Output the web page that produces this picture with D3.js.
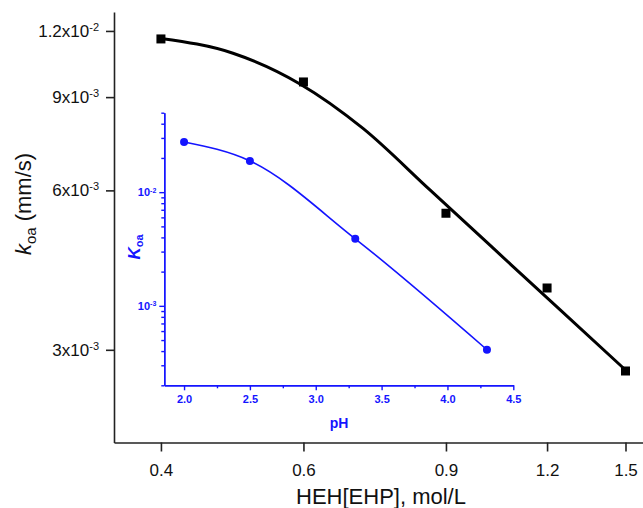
<!DOCTYPE html>
<html lang="en">
<head>
<meta charset="UTF-8">
<title>koa vs HEH[EHP]</title>
<script src="https://d3js.org/d3.v7.min.js"></script>
<style>
    body {
        margin: 0;
        background: #fff;
        font-family: "Liberation Sans", Arial, sans-serif;
    }
    .main-axis path, .main-axis line {
        stroke: #222;
        stroke-width: 1.6px;
    }
    .main-axis text {
        fill: #111;
        font-size: 17px;
    }
    .inset-axis path, .inset-axis line {
        stroke: #1414ff;
        stroke-width: 1.4px;
    }
    .inset-axis text {
        fill: #1414ff;
        font-size: 11px;
        font-weight: bold;
    }
</style>
</head>
<body>
<div id="chart"></div>
<script>
    // main plot: measured points
    const mainX = [0.4, 0.6, 0.9, 1.2, 1.5];
    const mainY = [0.01159, 0.009613, 0.005432, 0.003925, 0.002736];

    // fitted curve
    const fitX = [0.4, 0.491, 0.5941, 0.7108, 0.8599, 1.02, 1.2447, 1.5];
    const fitY = [0.011615, 0.010891, 0.00953, 0.007854, 0.006011, 0.004727, 0.003572, 0.002748];

    const mainXTicks = [0.4, 0.6, 0.9, 1.2, 1.5];
    const mainYTicks = [0.003, 0.006, 0.009, 0.012];
    const mainYTickLabels = [["3x10", "-3"], ["6x10", "-3"], ["9x10", "-3"], ["1.2x10", "-2"]];

    // inset: Koa vs pH
    const insetPH = [2.0, 2.5, 3.3, 4.3];
    const insetK = [0.0276, 0.01882, 0.00389, 0.000411];
    const insetXTicks = [2.0, 2.5, 3.0, 3.5, 4.0, 4.5];
    const insetXMinor = [2.25, 2.75, 3.25, 3.75, 4.25];
    const insetYTicks = [0.001, 0.01];
    const insetYTickLabels = [["10", "-3"], ["10", "-2"]];
    const insetYMinor = [0.0002, 0.0003, 0.0004, 0.0005, 0.0006, 0.0007, 0.0008, 0.0009,
                         0.002, 0.003, 0.004, 0.005, 0.006, 0.007, 0.008, 0.009,
                         0.02, 0.03, 0.04, 0.05];

    const W = 643, H = 508;
    const blue = "#1414ff";

    const svg = d3.select("#chart").append("svg")
        .attr("width", W)
        .attr("height", H);

    // ---- main plot ----
    const x = d3.scaleLog().domain([0.35, 1.65]).range([114, 659]);
    const y = d3.scaleLog().domain([0.002005, 0.01303]).range([442.5, 12]);

    svg.append("g")
        .attr("class", "main-axis")
        .attr("transform", "translate(0,442.5)")
        .call(d3.axisBottom(x).tickValues(mainXTicks).tickSize(9).tickSizeOuter(0).tickPadding(12)
            .tickFormat(d3.format(".1f")));

    const gy = svg.append("g")
        .attr("class", "main-axis")
        .attr("transform", "translate(114,0)")
        .call(d3.axisLeft(y).tickValues(mainYTicks).tickSize(8).tickSizeOuter(0).tickPadding(7));

    gy.selectAll(".tick text").each(function(d, i) {
        const t = d3.select(this).text(null);
        t.append("tspan").text(mainYTickLabels[i][0]);
        t.append("tspan").attr("dy", "-0.55em").style("font-size", "11px").text(mainYTickLabels[i][1]);
    });

    // axis titles
    svg.append("text")
        .attr("x", 381)
        .attr("y", 504)
        .attr("text-anchor", "middle")
        .style("font-size", "22px")
        .style("fill", "#111")
        .text("HEH[EHP], mol/L");

    const yt = svg.append("text")
        .attr("transform", "translate(31,204) rotate(-90)")
        .attr("text-anchor", "middle")
        .style("font-size", "22px")
        .style("fill", "#111");
    yt.append("tspan").style("font-style", "italic").text("k");
    yt.append("tspan").attr("dy", "5").style("font-size", "15px").text("oa");
    yt.append("tspan").attr("dy", "-5").text(" (mm/s)");

    // fitted curve
    const fitLine = d3.line()
        .x(d => x(d[0]))
        .y(d => y(d[1]))
        .curve(d3.curveMonotoneX);

    svg.append("path")
        .datum(d3.zip(fitX, fitY))
        .attr("d", fitLine)
        .attr("fill", "none")
        .attr("stroke", "#000")
        .attr("stroke-width", 3);

    svg.selectAll("rect.pt")
        .data(d3.zip(mainX, mainY))
        .enter()
        .append("rect")
        .attr("class", "pt")
        .attr("x", d => x(d[0]) - 4.5)
        .attr("y", d => y(d[1]) - 4.5)
        .attr("width", 9)
        .attr("height", 9)
        .attr("fill", "#000");

    // ---- inset ----
    const ix = d3.scaleLinear().domain([1.85, 4.5]).range([164.3, 513.3]);
    const iy = d3.scaleLog().domain([0.0002, 0.05]).range([385.3, 112.7]);

    // minor ticks first so the major axis lines sit on top
    svg.append("g")
        .attr("class", "inset-axis")
        .attr("transform", "translate(0,385.3)")
        .call(d3.axisBottom(ix).tickValues(insetXMinor).tickSize(3).tickSizeOuter(0).tickFormat(""));

    svg.append("g")
        .attr("class", "inset-axis")
        .attr("transform", "translate(164.3,0)")
        .call(d3.axisLeft(iy).tickValues(insetYMinor).tickSize(3).tickSizeOuter(0).tickFormat(""));

    svg.append("g")
        .attr("class", "inset-axis")
        .attr("transform", "translate(0,385.3)")
        .call(d3.axisBottom(ix).tickValues(insetXTicks).tickSize(5).tickSizeOuter(0).tickPadding(5)
            .tickFormat(d3.format(".1f")));

    const giy = svg.append("g")
        .attr("class", "inset-axis")
        .attr("transform", "translate(164.3,0)")
        .call(d3.axisLeft(iy).tickValues(insetYTicks).tickSize(5).tickSizeOuter(0).tickPadding(3));

    giy.selectAll(".tick text").each(function(d, i) {
        const t = d3.select(this).text(null);
        t.append("tspan").text(insetYTickLabels[i][0]);
        t.append("tspan").attr("dy", "-0.5em").style("font-size", "7px").text(insetYTickLabels[i][1]);
    });

    svg.append("text")
        .attr("x", 339)
        .attr("y", 427.5)
        .attr("text-anchor", "middle")
        .style("font-size", "14px")
        .style("font-weight", "bold")
        .style("fill", blue)
        .text("pH");

    const iyt = svg.append("text")
        .attr("transform", "translate(140,247) rotate(-90)")
        .attr("text-anchor", "middle")
        .style("font-weight", "bold")
        .style("fill", blue);
    iyt.append("tspan").style("font-size", "17px").style("font-style", "italic").text("K");
    iyt.append("tspan").attr("dy", "3").style("font-size", "11px").text("oa");

    const insetLine = d3.line()
        .x(d => ix(d[0]))
        .y(d => iy(d[1]))
        .curve(d3.curveMonotoneX);

    svg.append("path")
        .datum(d3.zip(insetPH, insetK))
        .attr("d", insetLine)
        .attr("fill", "none")
        .attr("stroke", blue)
        .attr("stroke-width", 1.6);

    svg.selectAll("circle.ipt")
        .data(d3.zip(insetPH, insetK))
        .enter()
        .append("circle")
        .attr("class", "ipt")
        .attr("cx", d => ix(d[0]))
        .attr("cy", d => iy(d[1]))
        .attr("r", 4)
        .attr("fill", blue);
</script>
</body>
</html>
